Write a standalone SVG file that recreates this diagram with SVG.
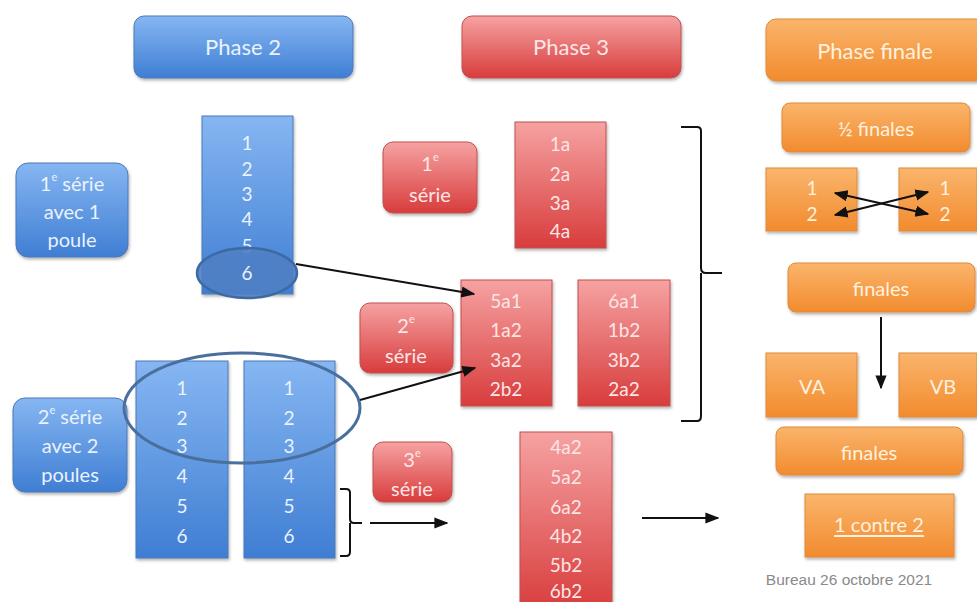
<svg xmlns="http://www.w3.org/2000/svg" width="977" height="602" viewBox="0 0 977 602">
<defs>
<linearGradient id="gb" x1="0" y1="0" x2="0" y2="1"><stop offset="0" stop-color="#86b6f2"/><stop offset="1" stop-color="#3f7ed3"/></linearGradient>
<linearGradient id="gr" x1="0" y1="0" x2="0" y2="1"><stop offset="0" stop-color="#f6a2a2"/><stop offset="1" stop-color="#d83c3c"/></linearGradient>
<linearGradient id="go" x1="0" y1="0" x2="0" y2="1"><stop offset="0" stop-color="#fab56c"/><stop offset="1" stop-color="#f28b2e"/></linearGradient>
<filter id="sh" x="-10%" y="-10%" width="120%" height="130%"><feDropShadow dx="1" dy="2" stdDeviation="1.5" flood-color="#000" flood-opacity="0.3"/></filter>
<marker id="ah" viewBox="0 0 10 10" refX="9" refY="5" markerWidth="7" markerHeight="7" orient="auto-start-reverse"><path d="M0,1 L10,5 L0,9 z" fill="#111"/></marker>
</defs>
<style>
.b{fill:url(#gb);stroke:#4a79b8;stroke-width:1;filter:url(#sh)}
.r{fill:url(#gr);stroke:#c05050;stroke-width:1;filter:url(#sh)}
.o{fill:url(#go);stroke:#e08a3a;stroke-width:1;filter:url(#sh)}
text{font-family:Lato,"Open Sans","Liberation Sans",sans-serif;font-size:20px;text-anchor:middle;dominant-baseline:central}
.h{font-size:22px}
.n{font-size:19px}
.tb{fill:#eaf2ff}
.tr{fill:#fde6e6}
.to{fill:#fff1df}
.ln{stroke:#111;stroke-width:2;fill:none}
</style>

<g id="phase2"><rect class="b" x="134" y="16" width="219" height="62" rx="10"/><text class="tb h" x="243" y="46">Phase 2</text></g>
<g id="phase3"><rect class="r" x="462" y="16" width="219" height="62" rx="10"/><text class="tr h" x="571" y="46">Phase 3</text></g>
<g id="phasefinale"><rect class="o" x="766" y="19" width="220" height="62" rx="10"/><text class="to h" x="875" y="50">Phase finale</text></g>

<g id="serie1-p2"><rect class="b" x="16" y="163" width="112" height="94" rx="12"/>
<text class="tb" x="72" y="183">1<tspan font-size="11" dy="-7">e</tspan><tspan dy="7"> série</tspan></text>
<text class="tb" x="72" y="211">avec 1</text><text class="tb" x="72" y="239">poule</text></g>

<g id="col-p2"><rect class="b" x="202" y="116" width="91" height="178"/>
<text class="tb n" x="247" y="142">1</text><text class="tb n" x="247" y="168">2</text><text class="tb n" x="247" y="193">3</text><text class="tb n" x="247" y="218">4</text><text class="tb n" x="247" y="245">5</text>
<ellipse cx="247" cy="273" rx="50" ry="25" fill="#4f80c4" fill-opacity="0.9" stroke="#3e6aa3" stroke-width="2.5"/>
<text class="tb n" x="247" y="272">6</text></g>

<g id="serie2-p2"><rect class="b" x="13" y="398" width="114" height="94" rx="12"/>
<text class="tb" x="70" y="416">2<tspan font-size="11" dy="-7">e</tspan><tspan dy="7"> série</tspan></text>
<text class="tb" x="70" y="445">avec 2</text><text class="tb" x="70" y="474">poules</text></g>

<g id="col-p2a"><rect class="b" x="136" y="361" width="92" height="197"/>
<text class="tb n" x="182" y="387">1</text><text class="tb n" x="182" y="417">2</text><text class="tb n" x="182" y="445">3</text><text class="tb n" x="182" y="475">4</text><text class="tb n" x="182" y="505">5</text><text class="tb n" x="182" y="535">6</text></g>
<g id="col-p2b"><rect class="b" x="244" y="361" width="91" height="197"/>
<text class="tb n" x="289" y="387">1</text><text class="tb n" x="289" y="417">2</text><text class="tb n" x="289" y="445">3</text><text class="tb n" x="289" y="475">4</text><text class="tb n" x="289" y="505">5</text><text class="tb n" x="289" y="535">6</text></g>
<ellipse id="ell-top3" cx="242" cy="408" rx="118" ry="55" fill="none" stroke="#4a6f9c" stroke-width="3"/>

<g id="serie1-p3"><rect class="r" x="383" y="142" width="94" height="71" rx="10"/>
<text class="tr" x="430" y="163">1<tspan font-size="11" dy="-7">e</tspan></text><text class="tr" x="430" y="194">série</text></g>
<g id="col-1a"><rect class="r" x="515" y="122" width="91" height="126"/>
<text class="tr n" x="560" y="143">1a</text><text class="tr n" x="560" y="173">2a</text><text class="tr n" x="560" y="202">3a</text><text class="tr n" x="560" y="230">4a</text></g>

<g id="serie2-p3"><rect class="r" x="360" y="303" width="93" height="70" rx="10"/>
<text class="tr" x="406" y="325">2<tspan font-size="11" dy="-7">e</tspan></text><text class="tr" x="406" y="355">série</text></g>
<g id="col-5a1"><rect class="r" x="461" y="280" width="91" height="126"/>
<text class="tr n" x="506" y="300">5a1</text><text class="tr n" x="506" y="329">1a2</text><text class="tr n" x="506" y="359">3a2</text><text class="tr n" x="506" y="388">2b2</text></g>
<g id="col-6a1"><rect class="r" x="578" y="280" width="92" height="126"/>
<text class="tr n" x="624" y="300">6a1</text><text class="tr n" x="624" y="329">1b2</text><text class="tr n" x="624" y="359">3b2</text><text class="tr n" x="624" y="388">2a2</text></g>

<g id="serie3-p3"><rect class="r" x="373" y="442" width="79" height="60" rx="10"/>
<text class="tr" x="412" y="459">3<tspan font-size="11" dy="-7">e</tspan></text><text class="tr" x="412" y="488">série</text></g>
<g id="col-4a2"><rect class="r" x="520" y="432" width="92" height="180"/>
<text class="tr n" x="566" y="446">4a2</text><text class="tr n" x="566" y="476">5a2</text><text class="tr n" x="566" y="506">6a2</text><text class="tr n" x="566" y="535">4b2</text><text class="tr n" x="566" y="564">5b2</text><text class="tr n" x="566" y="590">6b2</text></g>

<g id="demi"><rect class="o" x="782" y="103" width="188" height="49" rx="8"/><text class="to" x="876" y="128">½ finales</text></g>
<g id="sf-left"><rect class="o" x="766" y="168" width="91" height="63"/><text class="to n" x="812" y="187">1</text><text class="to n" x="812" y="213">2</text></g>
<g id="sf-right"><rect class="o" x="899" y="168" width="78" height="63"/><text class="to n" x="945" y="187">1</text><text class="to n" x="945" y="213">2</text></g>
<g id="finales1"><rect class="o" x="788" y="263" width="187" height="49" rx="8"/><text class="to" x="881" y="288">finales</text></g>
<g id="va"><rect class="o" x="766" y="353" width="91" height="64"/><text class="to" x="812" y="386">VA</text></g>
<g id="vb"><rect class="o" x="899" y="353" width="78" height="64"/><text class="to" x="943" y="386">VB</text></g>
<g id="finales2"><rect class="o" x="776" y="427" width="187" height="48" rx="8"/><text class="to" x="869" y="452">finales</text></g>
<g id="contre"><rect class="o" x="805" y="494" width="149" height="63"/><text class="to" x="879" y="524" text-decoration="underline">1 contre 2</text></g>

<g id="connectors">
<line class="ln" x1="296" y1="264" x2="474" y2="294" marker-end="url(#ah)"/>
<line class="ln" x1="360" y1="400" x2="475" y2="368" marker-end="url(#ah)"/>
<path class="ln" d="M681,127 H697 Q701,127 701,131 V268 Q701,273 706,273 H722 M701,273 V416 Q701,421 697,421 H681"/>
<path class="ln" d="M340,489 H346 Q350,489 350,493 V519 Q350,523 354,523 H362 M350,523 V552 Q350,556 346,556 H340"/>
<line class="ln" x1="370" y1="523" x2="447" y2="523" marker-end="url(#ah)"/>
<line class="ln" x1="642" y1="518" x2="718" y2="518" marker-end="url(#ah)"/>
<line class="ln" x1="881" y1="317" x2="881" y2="388" marker-end="url(#ah)"/>
<line class="ln" x1="835" y1="193" x2="928" y2="214" marker-start="url(#ah)" marker-end="url(#ah)"/>
<line class="ln" x1="835" y1="215" x2="928" y2="192" marker-start="url(#ah)" marker-end="url(#ah)"/>
</g>

<text x="849" y="579" style="font-family:'Liberation Sans',Arial,sans-serif;font-size:15.5px;fill:#8a8a8a">Bureau 26 octobre 2021</text>
</svg>
